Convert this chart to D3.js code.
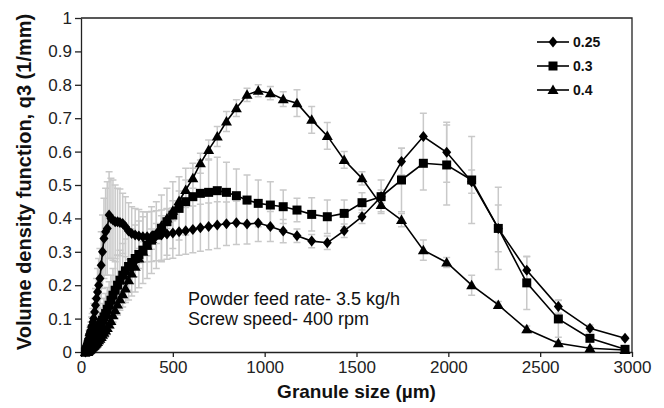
<!DOCTYPE html>
<html>
<head>
<meta charset="utf-8">
<script src="https://cdn.jsdelivr.net/npm/d3@7"></script>
<style>
	body { margin: 0; background: #fff; }
	svg { font-family: "Liberation Sans", Arial, sans-serif; }
</style>
</head>
<body>
<svg id="chart" width="664" height="408"></svg>
<script>
const width = 664,
	height = 408;

const margin = {top: 18, right: 32, bottom: 56, left: 81};

// granule size bins (µm), shared by all three series
const sizes = [
	24, 26, 28, 30, 32, 34, 36, 38,
	41, 44, 47, 50, 53, 57, 61, 65, 69,
	74, 79, 84, 90, 96, 103, 110, 117, 125, 134,
	143, 153, 163, 174, 186, 199, 212, 227, 242, 259,
	276, 295, 315, 337, 360, 384, 410, 438, 468, 500,
	534, 570, 609, 650, 695, 742, 792, 846, 904, 965,
	1031, 1101, 1176, 1256, 1341, 1433, 1530, 1634, 1745, 1864,
	1991, 2127, 2272, 2427, 2599, 2771, 2962
];

const q025 = [
	0, 0.005, 0.01, 0.015, 0.02, 0.025, 0.03, 0.035,
	0.04, 0.05, 0.055, 0.06, 0.065, 0.075, 0.08, 0.09, 0.10,
	0.12, 0.14, 0.16, 0.18, 0.20, 0.22, 0.26, 0.30, 0.34, 0.36,
	0.37, 0.41, 0.40, 0.395, 0.39, 0.39, 0.388, 0.385, 0.375, 0.362,
	0.355, 0.35, 0.347, 0.345, 0.345, 0.346, 0.348, 0.35, 0.353, 0.356,
	0.36, 0.363, 0.367, 0.372, 0.376, 0.38, 0.384, 0.387, 0.383, 0.386,
	0.376, 0.362, 0.348, 0.332, 0.327, 0.363, 0.405, 0.465, 0.57, 0.645,
	0.598, 0.51, 0.37, 0.245, 0.136, 0.071, 0.041
];

const q03 = [
	0, 0, 0.005, 0.005, 0.008, 0.01, 0.012, 0.015,
	0.018, 0.02, 0.022, 0.025, 0.028, 0.032, 0.036, 0.04, 0.045,
	0.05, 0.055, 0.06, 0.065, 0.07, 0.078, 0.086, 0.095, 0.105, 0.115,
	0.128, 0.14, 0.155, 0.17, 0.185, 0.2, 0.215, 0.23, 0.243, 0.256,
	0.268, 0.28, 0.292, 0.305, 0.32, 0.335, 0.35, 0.37, 0.39, 0.41,
	0.43, 0.45, 0.465, 0.475, 0.478, 0.483, 0.478, 0.468, 0.455, 0.445,
	0.44, 0.435, 0.425, 0.412, 0.405, 0.415, 0.447, 0.465, 0.515, 0.565,
	0.56, 0.515, 0.37, 0.207, 0.099, 0.041, 0.008
];

const q04 = [
	0, 0, 0, 0, 0, 0, 0, 0.002,
	0.003, 0.005, 0.006, 0.008, 0.01, 0.012, 0.014, 0.016, 0.018,
	0.02, 0.023, 0.026, 0.03, 0.035, 0.04, 0.045, 0.052, 0.058, 0.064,
	0.072, 0.082, 0.093, 0.11, 0.125, 0.142, 0.158, 0.173, 0.19, 0.215,
	0.235, 0.255, 0.28, 0.30, 0.318, 0.338, 0.355, 0.378, 0.40, 0.423,
	0.452, 0.485, 0.52, 0.565, 0.605, 0.645, 0.69, 0.73, 0.77, 0.782,
	0.775, 0.757, 0.745, 0.695, 0.647, 0.575, 0.52, 0.44, 0.395, 0.305,
	0.268, 0.20, 0.141, 0.068, 0.026, 0.011, 0.006
];

// standard deviations (grey error bars)
const err025 = [
	0.005, 0.005, 0.005, 0.005, 0.008, 0.008, 0.01, 0.01,
	0.012, 0.015, 0.018, 0.02, 0.025, 0.03, 0.035, 0.04, 0.045,
	0.04, 0.05, 0.06, 0.07, 0.08, 0.09, 0.1, 0.11, 0.12, 0.13,
	0.14, 0.13, 0.12, 0.12, 0.11, 0.1, 0.1, 0.09, 0.09, 0.085,
	0.08, 0.08, 0.08, 0.075, 0.075, 0.075, 0.075, 0.075, 0.075, 0.075,
	0.07, 0.07, 0.07, 0.07, 0.07, 0.07, 0.065, 0.065, 0.06, 0.055,
	0.045, 0.035, 0.02, 0.02, 0.02, 0.02, 0.02, 0.02, 0.04, 0.07,
	0.09, 0.035, 0.07, 0.04, 0.02, 0.01, 0.005
];

const err03 = [
	0.003, 0.003, 0.004, 0.004, 0.005, 0.005, 0.006, 0.006,
	0.007, 0.008, 0.009, 0.01, 0.012, 0.014, 0.016, 0.018, 0.02,
	0.022, 0.025, 0.028, 0.03, 0.035, 0.04, 0.045, 0.05, 0.055, 0.06,
	0.065, 0.07, 0.075, 0.08, 0.085, 0.09, 0.09, 0.095, 0.095, 0.1,
	0.1, 0.1, 0.1, 0.1, 0.1, 0.1, 0.1, 0.1, 0.1, 0.1,
	0.095, 0.1, 0.1, 0.1, 0.1, 0.1, 0.09, 0.08, 0.075, 0.07,
	0.07, 0.05, 0.035, 0.05, 0.05, 0.04, 0.03, 0.05, 0.095, 0.08,
	0.12, 0.13, 0.123, 0.08, 0.055, 0.01, 0.005
];

const err04 = [
	0.002, 0.002, 0.002, 0.002, 0.003, 0.003, 0.004, 0.004,
	0.005, 0.005, 0.006, 0.006, 0.007, 0.008, 0.008, 0.009, 0.01,
	0.01, 0.011, 0.012, 0.013, 0.014, 0.015, 0.016, 0.017, 0.018, 0.02,
	0.02, 0.02, 0.022, 0.022, 0.024, 0.025, 0.026, 0.027, 0.028, 0.03,
	0.03, 0.03, 0.03, 0.03, 0.03, 0.03, 0.03, 0.03, 0.03, 0.03,
	0.03, 0.03, 0.03, 0.03, 0.03, 0.03, 0.03, 0.025, 0.02, 0.018,
	0.02, 0.022, 0.04, 0.04, 0.04, 0.025, 0.02, 0.02, 0.02, 0.03,
	0.015, 0.03, 0.01, 0.01, 0.008, 0.005, 0.003
];

const seriesNames = ["0.25", "0.3", "0.4"];
const xTicks = [0, 500, 1000, 1500, 2000, 2500, 3000];
const yTicks = [0, 0.1, 0.2, 0.3, 0.4, 0.5, 0.6, 0.7, 0.8, 0.9, 1];
const notes = ["Powder feed rate- 3.5 kg/h", "Screw speed- 400 rpm"];

const shapes = {
	"0.25": "M0,-5.5L4.5,0L0,5.5L-4.5,0Z",
	"0.3": "M-4.5,-4.5H4.5V4.5H-4.5Z",
	"0.4": "M0,-5.5L5.5,4L-5.5,4Z"
};

const series = [
	{name: seriesNames[0], values: q025, err: err025},
	{name: seriesNames[1], values: q03, err: err03},
	{name: seriesNames[2], values: q04, err: err04}
].map(s => Object.assign(s, {
	points: sizes.map((d, i) => ({x: d, y: s.values[i], e: s.err[i]}))
}));

const xScale = d3.scaleLinear()
	.domain([0, 3000])
	.range([margin.left, width - margin.right]);

const yScale = d3.scaleLinear()
	.domain([0, 1])
	.range([height - margin.bottom, margin.top]);

const line = d3.line()
	.x(d => xScale(d.x))
	.y(d => yScale(d.y));

const chart = d3.select("#chart");

// error bars behind everything
const bars = chart.append("g")
	.attr("stroke", "#c9c9c9")
	.attr("stroke-width", 1.5)
	.attr("fill", "none");

series.forEach(s => {
	const g = bars.append("g");
	g.selectAll("path")
		.data(s.points)
		.join("path")
		.attr("d", d => {
			const cx = xScale(d.x),
				y0 = yScale(d.y - d.e),
				y1 = yScale(d.y + d.e);
			return `M${cx},${y0}V${y1}M${cx - 3.5},${y0}H${cx + 3.5}M${cx - 3.5},${y1}H${cx + 3.5}`;
		});
});

// axes
const xAxis = chart.append("g")
	.attr("transform", `translate(0,${height - margin.bottom})`)
	.call(d3.axisBottom(xScale).tickValues(xTicks).tickSize(5).tickSizeOuter(0).tickPadding(4).tickFormat(d => d));

const yAxis = chart.append("g")
	.attr("transform", `translate(${margin.left},0)`)
	.call(d3.axisLeft(yScale).tickValues(yTicks).tickSize(6).tickSizeOuter(0).tickPadding(3).tickFormat(d => d));

[xAxis, yAxis].forEach(ax => {
	ax.selectAll("path, line").attr("stroke", "#222").attr("stroke-width", 1.3);
	ax.selectAll("text")
		.attr("font-size", 17)
		.attr("fill", "#222")
		.attr("font-family", "Liberation Sans, Arial, sans-serif");
});

// top and right frame
chart.append("path")
	.attr("d", `M${margin.left},${margin.top}H${width - margin.right}V${height - margin.bottom}`)
	.attr("fill", "none")
	.attr("stroke", "#222")
	.attr("stroke-width", 1.3);

// series lines and markers
series.forEach(s => {
	chart.append("path")
		.datum(s.points)
		.attr("fill", "none")
		.attr("stroke", "#000")
		.attr("stroke-width", 1.6)
		.attr("d", line);

	chart.append("g")
		.selectAll("path")
		.data(s.points)
		.join("path")
		.attr("transform", d => `translate(${xScale(d.x)},${yScale(d.y)})`)
		.attr("d", shapes[s.name])
		.attr("fill", "#000");
});

// legend
const legend = chart.append("g")
	.attr("transform", "translate(537,42)");

const item = legend.selectAll("g")
	.data(seriesNames)
	.join("g")
	.attr("transform", (d, i) => `translate(0,${i * 24})`);

item.append("line")
	.attr("x1", 0)
	.attr("x2", 32)
	.attr("stroke", "#000")
	.attr("stroke-width", 1.6);

item.append("path")
	.attr("transform", "translate(16,0)")
	.attr("d", d => shapes[d])
	.attr("fill", "#000");

item.append("text")
	.attr("x", 36)
	.attr("dy", "0.36em")
	.attr("font-size", 14)
	.attr("font-weight", "bold")
	.attr("fill", "#111")
	.text(d => d);

// annotation
chart.append("g")
	.selectAll("text")
	.data(notes)
	.join("text")
	.attr("x", 188)
	.attr("y", (d, i) => 305 + i * 20)
	.attr("font-size", 18)
	.attr("fill", "#111")
	.text(d => d);

// axis titles
chart.append("text")
	.attr("x", (margin.left + width - margin.right) / 2)
	.attr("y", 398)
	.attr("text-anchor", "middle")
	.attr("font-size", 19)
	.attr("font-weight", "bold")
	.attr("fill", "#111")
	.text("Granule size (µm)");

chart.append("text")
	.attr("transform", "translate(31,182) rotate(-90)")
	.attr("text-anchor", "middle")
	.attr("font-size", 20)
	.attr("font-weight", "bold")
	.attr("fill", "#111")
	.text("Volume density function, q3 (1/mm)");
</script>
</body>
</html>
